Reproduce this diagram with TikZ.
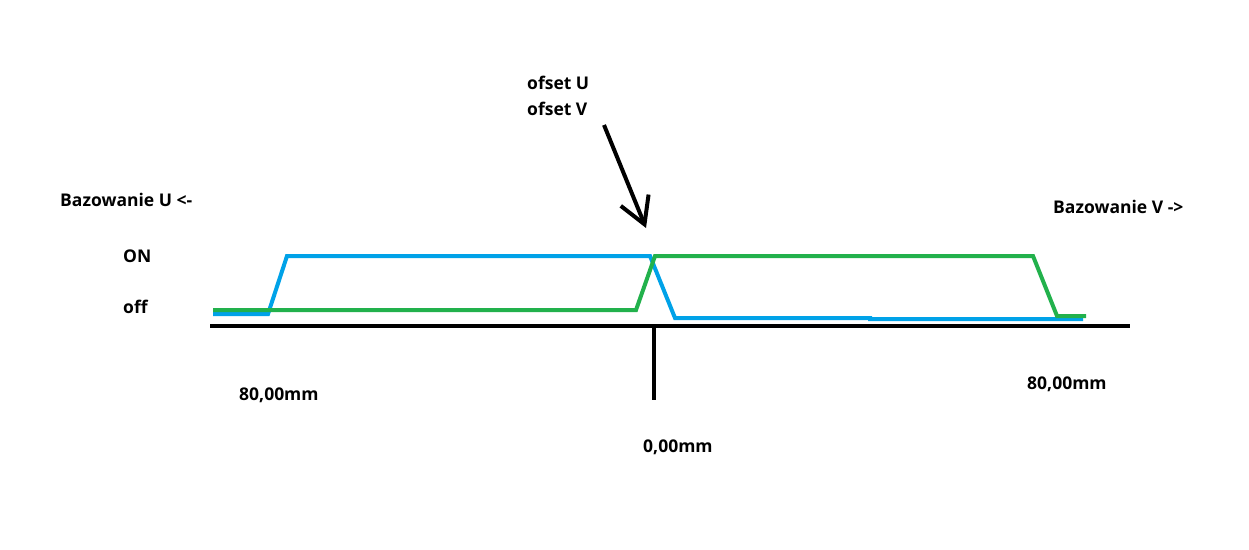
\documentclass[tikz,border=0pt]{standalone}
\usepackage{fontspec}
\setmainfont{Open Sans}
\usepackage{xcolor}
\usepackage{tikz}
\usetikzlibrary{arrows.meta, positioning}

\definecolor{sigblue}{RGB}{0,162,232}
\definecolor{siggreen}{RGB}{34,177,76}

\begin{document}
\begin{tikzpicture}[
      x=1pt, y=-1pt,
      every node/.style={anchor=west, inner sep=0pt, font=\fontsize{17.5}{21}\selectfont\bfseries},
      sig/.style={line width=4pt, line join=miter},
      axisline/.style={line width=4.5pt, black},
      pointer/.style={line width=4pt, -{Straight Barb[length=26pt, width=30pt]}}
    ]
      \useasboundingbox (0,0) rectangle (1249,549);
      \draw[axisline] (210,326) -- (1130,326);
      \draw[axisline] (654,326) -- (654,400);
      \draw[sig, sigblue] (213,314) -- (268,314) -- (287,256) -- (650,256) -- (675,318)
        -- (870,318) -- (870,319) -- (1083,319);
      \draw[sig, siggreen] (213,310) -- (636,310) -- (655,256) -- (1033,256) -- (1057,316)
        -- (1086,316);
      \node (ofsetu) at (527,83) {ofset U};
      \node (ofsetv) at (527,109) {ofset V};
      \coordinate (tail) at (604,125);
      \coordinate (tip) at (646,228);
      \draw[pointer] (tail) -- (tip);
      \node (bazu) at (60,200) {Bazowanie U <-};
      \node (bazv) at (1053,207) {Bazowanie V ->};
      \node (on) at (123,256) {ON};
      \node (off) at (123,307) {off};
      \node (leftmm) at (239,395) {80,00mm};
      \node (rightmm) at (1027,384) {80,00mm};
      \node (zeromm) at (643,447) {0,00mm};
    \end{tikzpicture}
\end{document}
